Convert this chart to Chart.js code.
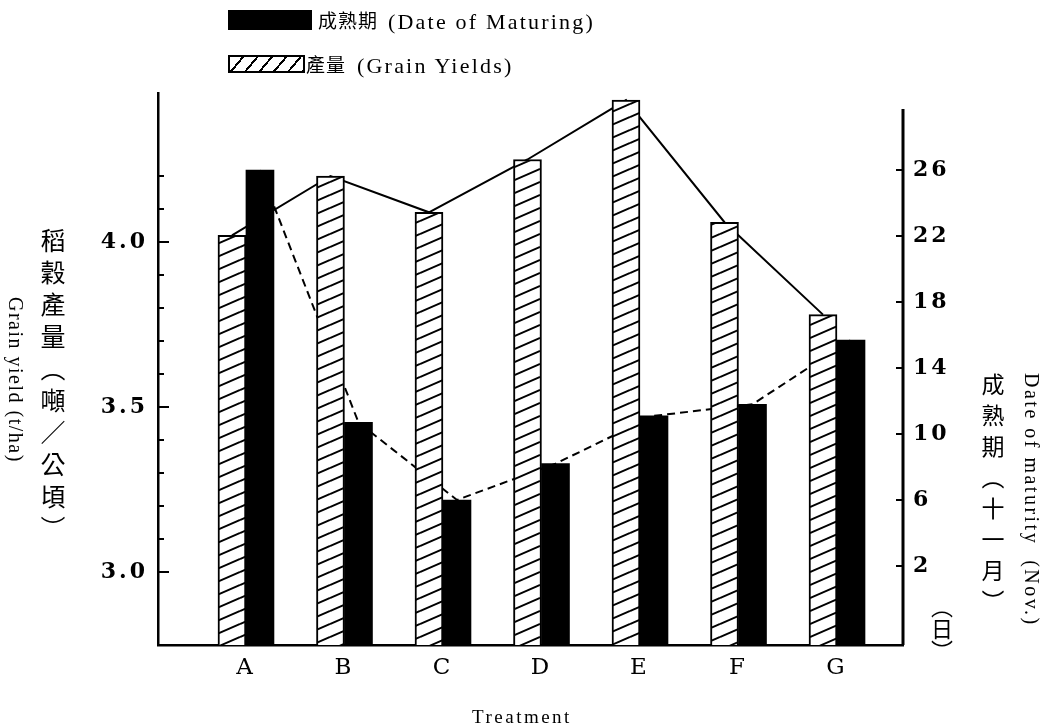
<!DOCTYPE html>
<html>
<head>
<meta charset="utf-8">
<script src="https://cdn.jsdelivr.net/npm/chart.js@4"></script>
<style>
  html, body { margin: 0; padding: 0; background: #fff; }
  #wrap { position: relative; width: 1052px; height: 728px; overflow: hidden; }
  #chart { position: absolute; left: 0; top: 0; }
  .txt { position: absolute; color: #000; white-space: nowrap; line-height: 1; }
  .cjk { font-family: "Noto Sans CJK TC", sans-serif; }
  .ser { font-family: "Liberation Serif", "DejaVu Serif", serif; }
  .vert { writing-mode: vertical-rl; }
  .box { position: absolute; border: 2px solid #000; box-sizing: border-box; }
</style>
</head>
<body>
<div id="wrap">
  <canvas id="chart" width="1052" height="728"></canvas>

  <!-- legend -->
  <div class="box" style="left:228px;top:10px;width:84px;height:20px;background:#000"></div>
  <div class="txt cjk" style="left:318px;top:10px;font-size:19px;letter-spacing:1px">成熟期</div>
  <div class="txt ser" style="left:388px;top:11px;font-size:22px;letter-spacing:2.2px">(Date of Maturing)</div>
  <div class="box" style="left:228px;top:55px;width:77px;height:18px;background:repeating-linear-gradient(130deg,#fff 0 9px,#000 9px 11px)"></div>
  <div class="txt cjk" style="left:306px;top:54px;font-size:19px;letter-spacing:1px">產量</div>
  <div class="txt ser" style="left:357px;top:55px;font-size:22px;letter-spacing:2.2px">(Grain Yields)</div>

  <!-- axis titles -->
  <div class="txt cjk vert" style="left:40px;top:228px;font-size:25px;letter-spacing:7px">稻穀產量（噸／公頃）</div>
  <div class="txt ser vert" style="left:6px;top:297px;font-size:20px;letter-spacing:1.5px">Grain yield (t/ha)</div>
  <div class="txt cjk vert" style="left:981px;top:373px;font-size:23px;letter-spacing:8px">成熟期（十一月）</div>
  <div class="txt cjk vert" style="left:931px;top:596px;font-size:22px">（日）</div>
  <div class="txt ser vert" style="left:1022px;top:373px;font-size:20px;letter-spacing:2.5px">Date of maturity&nbsp;&nbsp;(Nov.)</div>
  <div class="txt ser" style="left:472px;top:707px;font-size:19px;letter-spacing:2.5px">Treatment</div>
</div>

<script>
// treatments and readings
const treatments = ['A', 'B', 'C', 'D', 'E', 'F', 'G'];
const grainYield = [4.02, 4.20, 4.09, 4.25, 4.43, 4.06, 3.78];   // t/ha, left axis
const maturityDay = [26.0, 10.7, 6.0, 8.2, 11.1, 11.8, 15.7];    // day of November, right axis

// axis ticks
const yieldLabelTicks = [3.0, 3.5, 4.0];
const yieldMinorTicks = [3.0, 3.1, 3.2, 3.3, 3.4, 3.5, 3.6, 3.7, 3.8, 3.9, 4.0, 4.1, 4.2];
const dayTicks = [2, 6, 10, 14, 18, 22, 26];

// axis ranges
const yieldMin = 2.779, yieldMax = 4.4515;
const dayMin = -2.79, dayMax = 30.67, dayAxisTop = 29.7;

function makeHatch() {
    const c = document.createElement('canvas');
    c.width = 30;
    c.height = 13;
    const g = c.getContext('2d');
    g.fillStyle = '#fff';
    g.fillRect(0, 0, 30, 13);
    g.strokeStyle = '#000';
    g.lineWidth = 2;
    for (const off of [-13, 0, 13]) {
        g.beginPath();
        g.moveTo(0, 13 + off);
        g.lineTo(30, off);
        g.stroke();
    }
    return g.createPattern(c, 'repeat');
}

// connecting lines under the bars, inward tick marks, right axis line
const extras = {
    id: 'extras',
    beforeDraw(chart) {
        chart.ctx.letterSpacing = '3px';
    },
    beforeDatasetsDraw(chart) {
        const ctx = chart.ctx;
        ctx.save();
        ctx.strokeStyle = '#000';
        ctx.lineWidth = 2;
        [0, 1].forEach(di => {
            const pts = chart.getDatasetMeta(di).data;
            ctx.setLineDash(di === 1 ? [8, 5] : []);
            ctx.beginPath();
            pts.forEach((p, i) => i ? ctx.lineTo(p.x, p.y) : ctx.moveTo(p.x, p.y));
            ctx.stroke();
        });
        ctx.restore();
    },
    afterDraw(chart) {
        const ctx = chart.ctx;
        const area = chart.chartArea;
        const yL = chart.scales.y;
        const yR = chart.scales.y2;
        ctx.save();
        ctx.strokeStyle = '#000';
        ctx.lineWidth = 3;
        ctx.beginPath();
        ctx.moveTo(area.right, yR.getPixelForValue(dayAxisTop));
        ctx.lineTo(area.right, area.bottom);
        ctx.stroke();
        ctx.lineWidth = 2;
        yieldMinorTicks.forEach(v => {
            const py = Math.round(yL.getPixelForValue(v));
            const len = yieldLabelTicks.includes(v) ? 11 : 6;
            ctx.beginPath();
            ctx.moveTo(area.left, py);
            ctx.lineTo(area.left + len, py);
            ctx.stroke();
        });
        dayTicks.forEach(v => {
            const py = Math.round(yR.getPixelForValue(v));
            ctx.beginPath();
            ctx.moveTo(area.right - 7, py);
            ctx.lineTo(area.right, py);
            ctx.stroke();
        });
        ctx.restore();
        ctx.letterSpacing = '0px';
    }
};

const valueFont = { family: 'DejaVu Serif', size: 22, weight: 'bold' };
const letterFont = { family: 'DejaVu Serif', size: 23 };

new Chart(document.getElementById('chart'), {
    type: 'bar',
    data: {
        datasets: [
            {
                label: '產量 (Grain Yields)',
                data: grainYield.map((v, i) => ({ x: i + 1, y: v })),
                yAxisID: 'y',
                backgroundColor: makeHatch(),
                borderColor: '#000',
                borderWidth: 2,
                barThickness: 28
            },
            {
                label: '成熟期 (Date of Maturing)',
                data: maturityDay.map((v, i) => ({ x: i + 1, y: v })),
                yAxisID: 'y2',
                base: dayMin,
                backgroundColor: '#000',
                borderWidth: 0,
                barThickness: 28
            }
        ]
    },
    options: {
        responsive: false,
        animation: false,
        devicePixelRatio: 1,
        layout: { padding: { top: 93, left: 0, right: 0, bottom: 0 } },
        plugins: {
            legend: { display: false },
            tooltip: { enabled: false }
        },
        scales: {
            x: {
                type: 'linear',
                min: 0.107,
                max: 7.67,
                offset: false,
                grid: { display: false, drawTicks: false },
                border: { display: true, color: '#000', width: 2.5 },
                afterBuildTicks: s => { s.ticks = treatments.map((t, i) => ({ value: i + 1 })); },
                ticks: {
                    callback: v => treatments[v - 1],
                    font: letterFont,
                    color: '#000',
                    padding: 9,
                    autoSkip: false,
                    maxRotation: 0
                },
                afterFit: s => { s.height = 83; }
            },
            y: {
                position: 'left',
                min: yieldMin,
                max: yieldMax,
                grid: { display: false, drawTicks: false },
                border: { display: true, color: '#000', width: 2.5 },
                afterBuildTicks: s => { s.ticks = yieldLabelTicks.map(v => ({ value: v })); },
                ticks: {
                    callback: v => v.toFixed(1),
                    font: valueFont,
                    color: '#000',
                    padding: 10
                },
                afterFit: s => { s.width = 158; }
            },
            y2: {
                position: 'right',
                min: dayMin,
                max: dayMax,
                grid: { display: false, drawTicks: false },
                border: { display: false },
                afterBuildTicks: s => { s.ticks = dayTicks.map(v => ({ value: v })); },
                ticks: {
                    font: valueFont,
                    color: '#000',
                    padding: 10
                },
                afterFit: s => { s.width = 149; }
            }
        }
    },
    plugins: [extras]
});
</script>
</body>
</html>
